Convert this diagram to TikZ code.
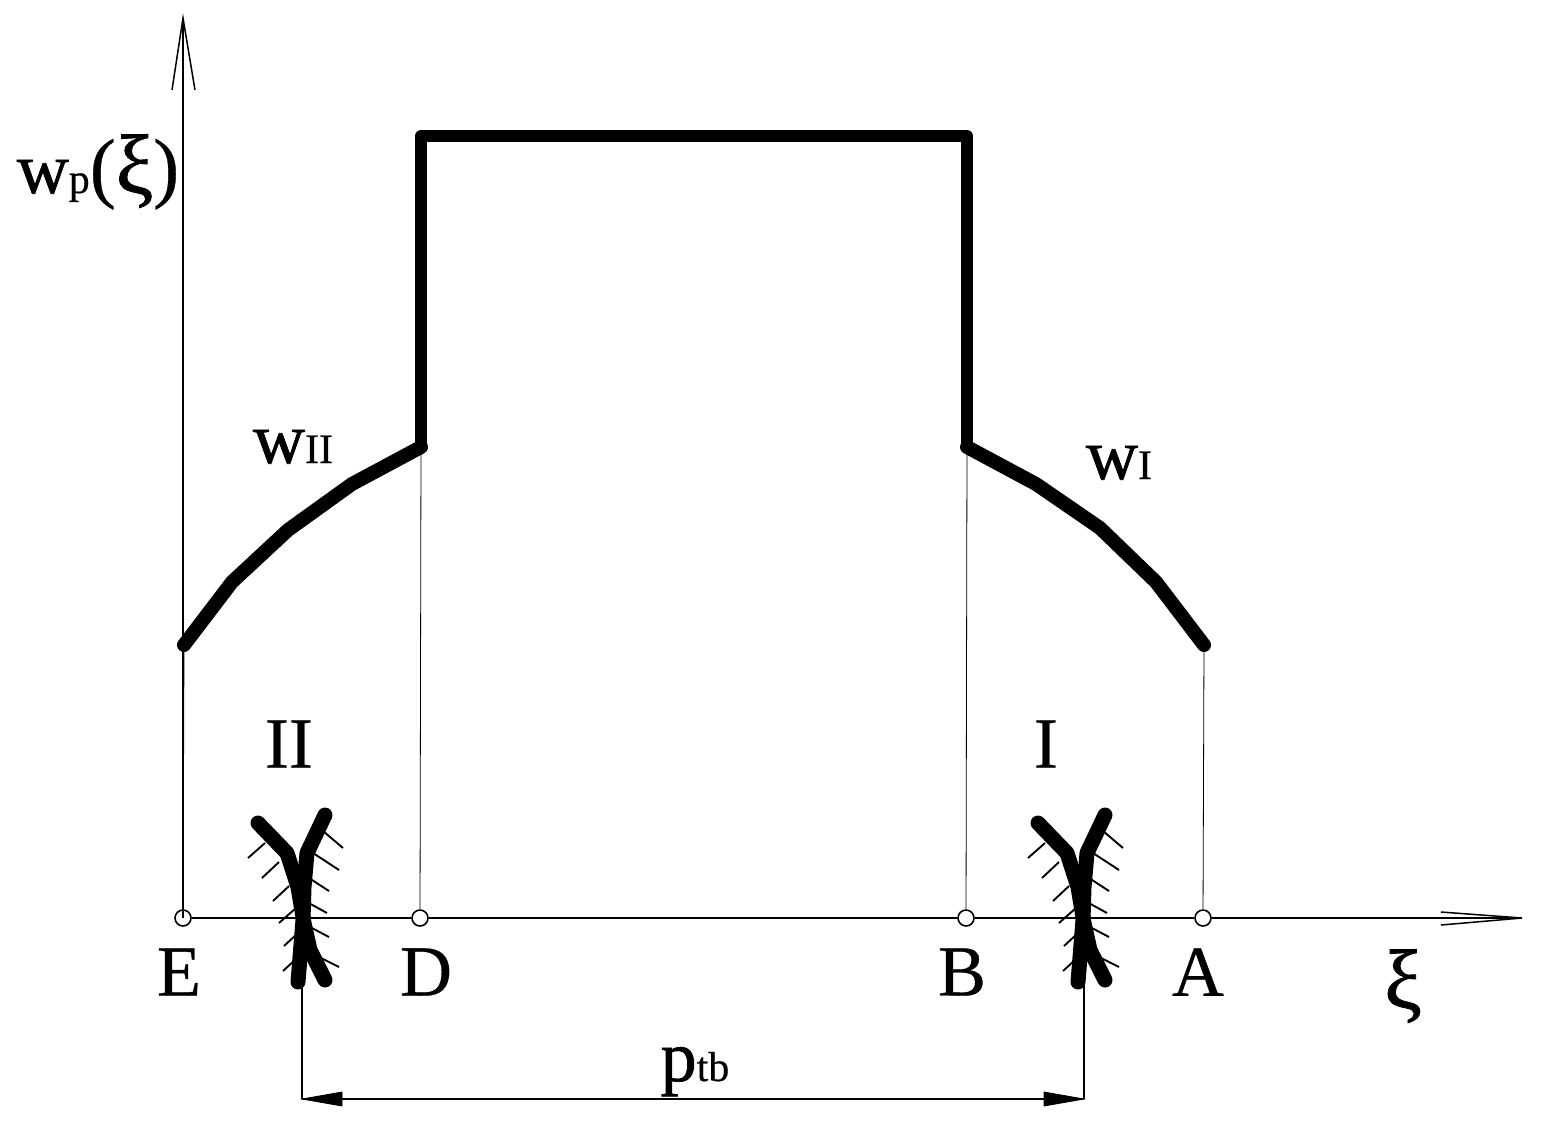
\documentclass[tikz,border=0pt]{standalone}
\usepackage{fontspec}
\setmainfont{Liberation Serif}
\newfontfamily\heavyf{Liberation Serif}[FakeBold=1.0]
\newfontfamily\lightf{Liberation Serif}[FakeBold=0.4]
\tikzset{
  x=0.5pt,y=-0.5pt,
  profile/.style={line width=5.8pt,line cap=round,line join=round,black},
  flank/.style={line width=7pt,line cap=round,line join=round,black},
  mesh/.style={line width=7.5pt,line cap=round,line join=round,black},
  thinline/.style={line width=0.75pt,black},
  hairline/.style={line width=0.4pt,black},
  hatch/.style={line width=0.95pt,black},
  openhead/.style={line width=0.75pt,black,line join=miter},
  solidhead/.style={fill=black,draw=black,line width=0.4pt},
  dot/.style={circle,draw=black,fill=white,line width=0.8pt,minimum size=8pt,inner sep=0pt},
  big/.style={inner sep=0pt,font=\lightf\fontsize{36}{36}\selectfont},
}
\newcommand{\lbl}[2]{{\heavyf\fontsize{36}{36}\selectfont #1}{\lightf\fontsize{21}{21}\selectfont #2}}
\begin{document}
\begin{tikzpicture}
\useasboundingbox (0,0) rectangle (1548,1132);
\coordinate (origin) at (183,918);
\coordinate (ytip) at (183,18);
\coordinate (yl) at (172,90);
\coordinate (yr) at (195,90);
\coordinate (xtip) at (1522,918);
\coordinate (xu) at (1441,912);
\coordinate (xd) at (1441,925);
\coordinate (e1) at (184,645);
\coordinate (d1) at (421,447);
\coordinate (d2) at (421,136);
\coordinate (b2) at (967,136);
\coordinate (b1) at (967,447);
\coordinate (a1) at (1204,645);
\node[dot] (E) at (183,918) {};
\node[dot] (D) at (420,918) {};
\node[dot] (B) at (966,918) {};
\node[dot] (A) at (1203,918) {};
\draw[thinline] (origin) -- (ytip);
\draw[thinline] (E) -- (D);
\draw[thinline] (D) -- (B);
\draw[thinline] (B) -- (A);
\draw[thinline] (A) -- (xtip);
\draw[openhead] (yl) -- (ytip) -- (yr);
\draw[openhead] (xu) -- (xtip) -- (xd);
\draw[hairline] (e1) -- (E);
\draw[hairline] (d1) -- (D);
\draw[hairline] (b1) -- (B);
\draw[hairline] (a1) -- (A);
\draw[profile] (d1) -- (d2) -- (b2) -- (b1);
\draw[flank] (e1) -- (232,582) -- (288,530) -- (352,484) -- (d1);
\draw[flank] (b1) -- (1036,484) -- (1100,528) -- (1156,582) -- (a1);
\foreach \dx in {0,780}{
\begin{scope}[shift={(\dx,0)}]
\draw[hatch] (265,843)--(248,858) (279,862)--(262,878) (289,886)--(273,901) (296,908)--(279,923) (298,933)--(284,946) (296,959)--(283,971);
\draw[hatch] (323,831)--(343,848) (313,853)--(339,870) (309,878)--(329,891) (307,902)--(327,913) (310,927)--(329,937) (321,958)--(339,967);
\draw[mesh] (258,823) -- (287,853) -- (298,887) -- (304,923) -- (310,950) -- (325,980);
\draw[mesh] (325,815) -- (307,853) -- (304,887) -- (303,920) -- (298,982);
\end{scope}}
\coordinate (dl0) at (302,985);
\coordinate (dl) at (302,1099);
\coordinate (dr0) at (1084,985);
\coordinate (dr) at (1084,1099);
\draw[thinline] (dl0) -- (dl);
\draw[thinline] (dr0) -- (dr);
\draw[thinline] (dl) -- (dr);
\draw[solidhead] (dl) -- (342,1092) -- (342,1106) -- cycle;
\draw[solidhead] (dr) -- (1044,1092) -- (1044,1106) -- cycle;
\node[big] (lE) at (179,972) {E};
\node[big] (lD) at (426,972) {D};
\node[big] (lB) at (962,972) {B};
\node[big] (lA) at (1198,972) {A};
\node[big] (lII) at (289,744) {II};
\node[big] (lI) at (1046,744) {I};
\node[inner sep=0pt,anchor=base] (lxi) at (1403,1008) {\heavyf\fontsize{42}{42}\selectfont ξ};
\node[inner sep=0pt,anchor=base] (lw) at (98,193) {\lbl{w}{p}{\lightf\fontsize{39}{39}\selectfont (}{\heavyf\fontsize{42}{42}\selectfont ξ}{\lightf\fontsize{39}{39}\selectfont )}};
\node[inner sep=0pt,anchor=base] (lwii) at (293,463) {\lbl{w}{II}};
\node[inner sep=0pt,anchor=base] (lwi) at (1119,479) {\lbl{w}{I}};
\node[inner sep=0pt,anchor=base] (lp) at (695,1081) {\lbl{p}{tb}};
\end{tikzpicture}
\end{document}
